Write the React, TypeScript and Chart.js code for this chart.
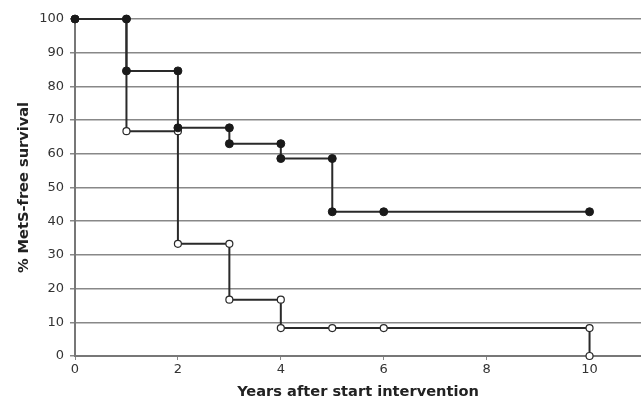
import React, { useEffect, useRef } from "react";
import { Chart, registerables } from "chart.js";

Chart.register(...registerables);

const xTickValues = [0, 2, 4, 6, 8, 10];
const yTickValues = [0, 10, 20, 30, 40, 50, 60, 70, 80, 90, 100];

// Group 1 (filled markers)
const filledX = [0, 1, 1, 2, 2, 3, 3, 4, 4, 5, 5, 6, 10];
const filledY = [100, 100, 84.6, 84.6, 67.7, 67.7, 63.0, 63.0, 58.6, 58.6, 42.8, 42.8, 42.8];

// Group 2 (open markers)
const openX = [0, 1, 1, 2, 2, 3, 3, 4, 4, 5, 6, 10, 10];
const openY = [100, 100, 66.7, 66.7, 33.3, 33.3, 16.7, 16.7, 8.3, 8.3, 8.3, 8.3, 0];

const xTitle = "Years after start intervention";
const yTitle = "% MetS-free survival";

export default function App() {
  const ref = useRef<HTMLCanvasElement>(null);
  useEffect(() => {
    const ctx = ref.current!;
    const font = "'DejaVu Sans', Verdana, sans-serif";
    const chart = new Chart(ctx, {
      type: "line",
      data: {
        datasets: [
          {
            label: "filled",
            data: filledX.map((x, i) => ({ x, y: filledY[i] })),
            borderColor: "#2a2a2a",
            borderWidth: 2,
            pointRadius: 4,
            pointBackgroundColor: "#1a1a1a",
            pointBorderColor: "#1a1a1a",
            pointBorderWidth: 1,
            clip: false,
            order: 1,
          },
          {
            label: "open",
            data: openX.map((x, i) => ({ x, y: openY[i] })),
            borderColor: "#2a2a2a",
            borderWidth: 2,
            pointRadius: 3.5,
            pointBackgroundColor: "#ffffff",
            pointBorderColor: "#2a2a2a",
            pointBorderWidth: 1.2,
            clip: false,
            order: 2,
          },
        ],
      },
      options: {
        animation: false,
        responsive: false,
        maintainAspectRatio: false,
        layout: { autoPadding: false, padding: { top: 19, right: 0, left: 0, bottom: 0 } },
        plugins: { legend: { display: false }, tooltip: { enabled: false } },
        scales: {
          x: {
            type: "linear",
            min: 0,
            max: 11,
            afterBuildTicks: (s: any) => {
              s.ticks = xTickValues.map((v) => ({ value: v }));
            },
            afterFit: (s: any) => {
              s.height = 45;
              s.paddingRight = 0;
              s.paddingLeft = 0;
            },
            ticks: {
              font: { family: font, size: 13 },
              color: "#333",
              padding: 2,
              maxRotation: 0,
            },
            grid: {
              drawOnChartArea: false,
              drawTicks: true,
              tickLength: 4,
              color: "#888",
            },
            border: { color: "#777", width: 2 },
            title: {
              display: true,
              text: xTitle,
              font: { family: font, size: 14.6, weight: "bold" },
              color: "#222",
              padding: { top: 3, bottom: 0 },
            },
          },
          y: {
            type: "linear",
            min: 0,
            max: 100,
            afterBuildTicks: (s: any) => {
              s.ticks = yTickValues.map((v) => ({ value: v }));
            },
            afterFit: (s: any) => {
              s.width = 75;
              s.paddingTop = 0;
              s.paddingBottom = 0;
            },
            ticks: {
              font: { family: font, size: 13 },
              color: "#333",
              padding: 6,
            },
            grid: {
              color: "#888",
              lineWidth: 1.5,
              tickLength: 5,
            },
            border: { color: "#777", width: 2 },
            title: {
              display: true,
              text: yTitle,
              font: { family: font, size: 14.6, weight: "bold" },
              color: "#222",
              padding: { top: 15, bottom: 0 },
            },
          },
        },
      },
    });
    return () => chart.destroy();
  }, []);
  return (
    <div style={{ position: "fixed", left: 0, top: 0, width: 641, height: 401, background: "#fff" }}>
      <canvas ref={ref} width={641} height={401} />
    </div>
  );
}
